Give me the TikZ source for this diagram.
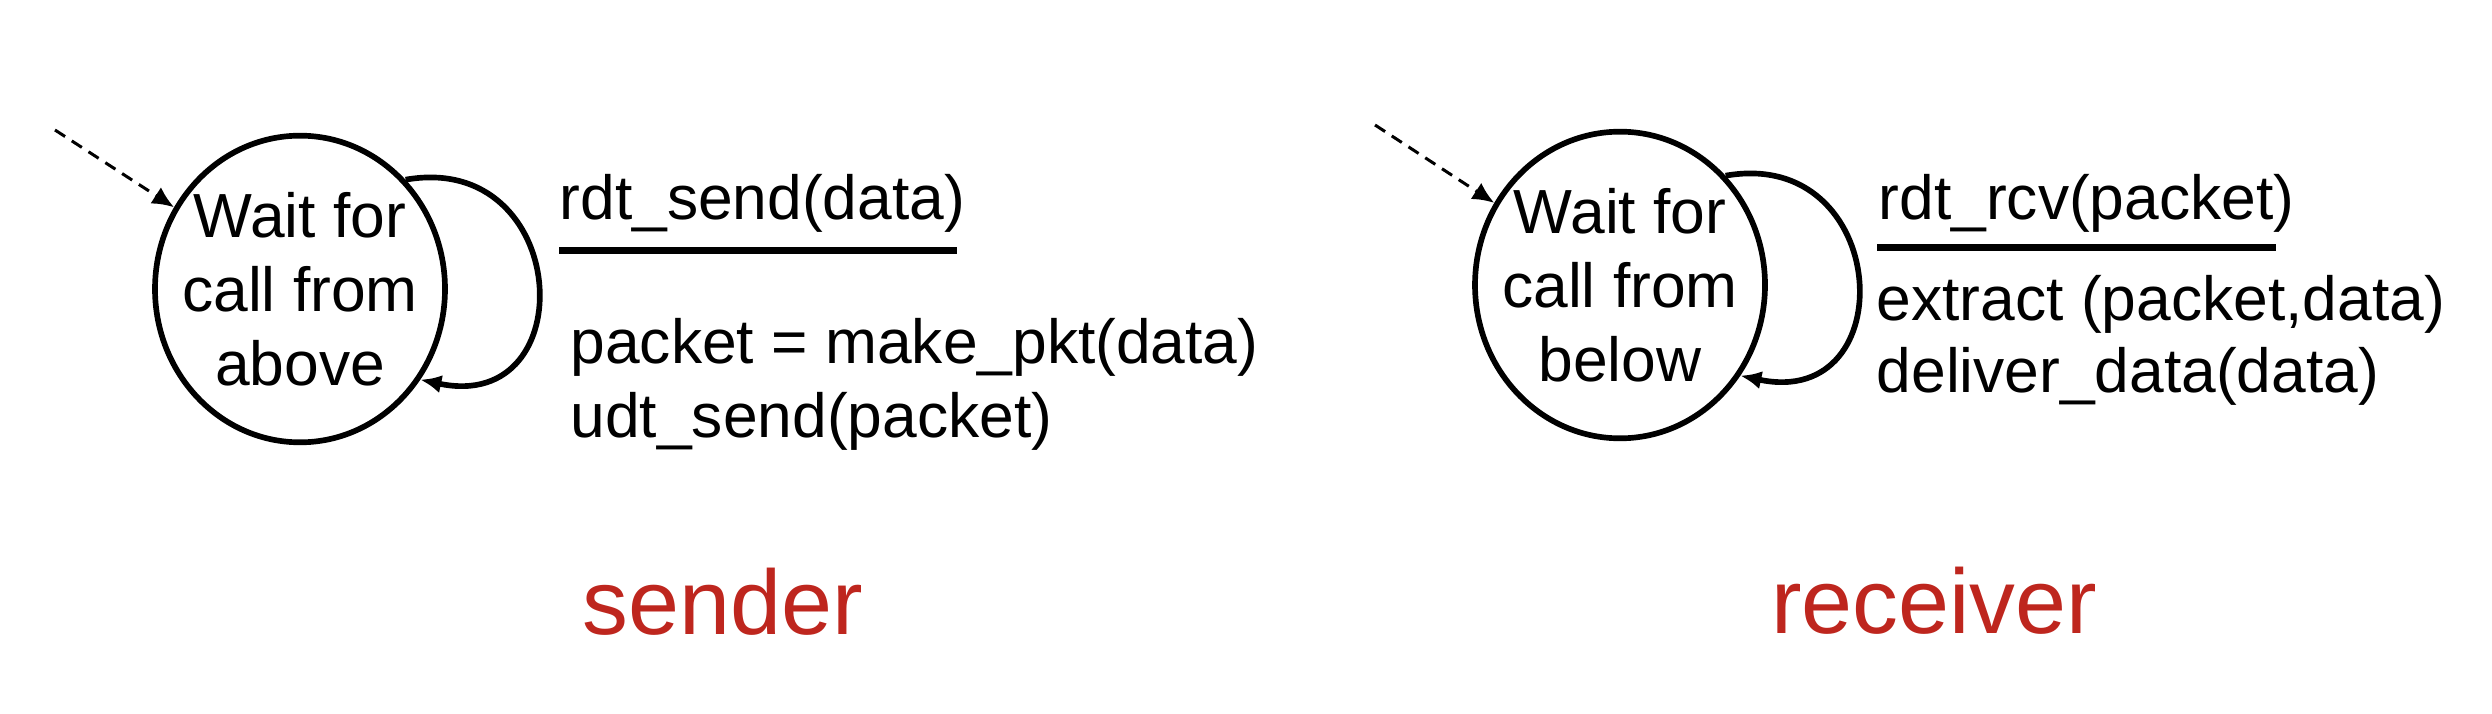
\documentclass[tikz,border=0pt]{standalone}
\usepackage{fontspec}
\setmainfont{Liberation Sans}
\usepackage{tikz}
\usetikzlibrary{shapes,arrows,positioning,calc,arrows.meta}

\definecolor{sidered}{RGB}{190,38,30}

\tikzset{
  waitstate/.style={draw, ellipse, line width=1.7pt, minimum width=87pt, minimum height=92pt,
    inner xsep=-5pt, inner ysep=0pt, align=center, font=\fontsize{18.7}{22.2}\selectfont},
  initarrow/.style={line width=0.9pt, dash pattern=on 3.6pt off 2.4pt,
    -{Latex[length=6.5pt,width=5.8pt]}},
  selfloop/.style={line width=1.7pt, -{Latex[length=6.3pt,width=5.5pt]},
    looseness=2.15},
  fsmtext/.style={inner sep=0pt, anchor=base west, font=\fontsize{18.7}{22.2}\selectfont},
  guardbar/.style={line width=2.1pt},
  sidename/.style={inner sep=0pt, anchor=base, text=sidered, font=\fontsize{27.5}{33}\selectfont}
}

\begin{document}
\begin{tikzpicture}[x=0.3pt,y=-0.3pt]
    \useasboundingbox (0,0) rectangle (2492,714);

    % Sender
    \node[waitstate] (snd) at (300,289) {Wait for\\call from\\above};
    \coordinate (sndstart) at (55,130);
    \draw[initarrow] (sndstart) -- (snd);
    \draw[selfloop] (snd.46) to[out=10,in=-12] (snd.-37);
    \node[fsmtext] (sndevt) at (559,220) {rdt\_send(data)};
    \draw[guardbar] (559,251) -- (957,251);
    \node[fsmtext] (sndact1) at (570,363) {packet = make\_pkt(data)};
    \node[fsmtext] (sndact2) at (570,437) {udt\_send(packet)};
    \node[sidename] (sndname) at (723,634) {sender};

    % Receiver
    \node[waitstate] (rcv) at (1620,285) {Wait for\\call from\\below};
    \coordinate (rcvstart) at (1375,125);
    \draw[initarrow] (rcvstart) -- (rcv);
    \draw[selfloop] (rcv.46) to[out=10,in=-12] (rcv.-37);
    \node[fsmtext] (rcvevt) at (1878,220) {rdt\_rcv(packet)};
    \draw[guardbar] (1877,248) -- (2276,248);
    \node[fsmtext] (rcvact1) at (1876,320) {extract (packet,data)};
    \node[fsmtext] (rcvact2) at (1876,393) {deliver\_data(data)};
    \node[sidename] (rcvname) at (1934,633) {receiver};
\end{tikzpicture}
\end{document}
